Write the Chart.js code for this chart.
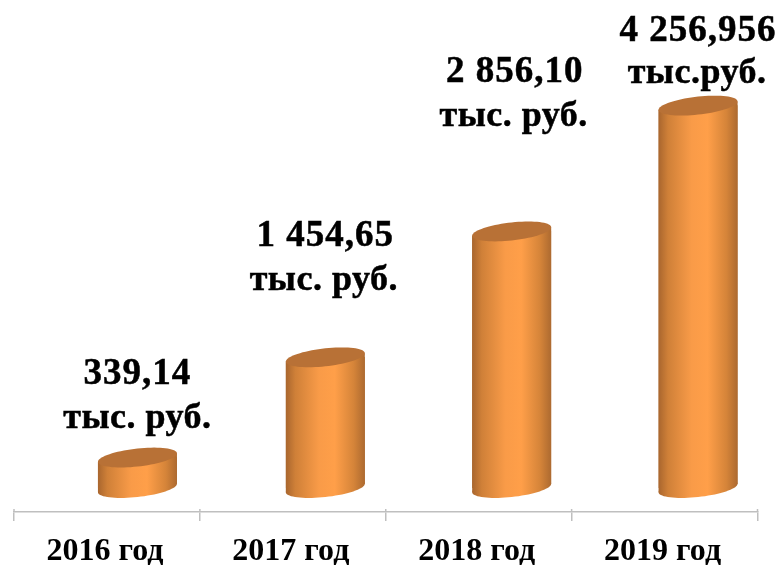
<!DOCTYPE html>
<html><head><meta charset="utf-8">
<script src="https://cdn.jsdelivr.net/npm/chart.js@4"></script>
<style>html,body{margin:0;padding:0;background:#fff}#w{width:781px;height:565px}canvas{filter:blur(.45px)}</style>
</head><body><div id="w"><canvas id="c"></canvas></div>
<script>
const categories = ["2016 год","2017 год","2018 год","2019 год"];
const values = [339.14,1454.65,2856.10,4256.956];
const valueLabels = ["339,14","1 454,65","2 856,10","4 256,956"];
const unitLabels = ["тыс. руб.","тыс. руб.","тыс. руб.","тыс.руб."];
const SERIF = '"Liberation Serif","Times New Roman",serif';
const barShift = [30.5,32.5,33,33.5];
const DY = -24, RY = 9, SKEW = 4.2, BAR = 79;
const labelLift = [83,121,159.5,74], labelShift=[0,0,3,0], unitShift=[0,-1.5,-1,-1], lineGap=[44.5,44.5,45,42.5];
function sideGrad(ctx,l,r){const g=ctx.createLinearGradient(l,0,r,0);
 g.addColorStop(0,'#a9662e');g.addColorStop(.12,'#cf8038');g.addColorStop(.42,'#f99b48');g.addColorStop(.62,'#ff9f49');g.addColorStop(.86,'#d58439');g.addColorStop(1,'#ad6a30');return g;}
function cap(c,x,y,w){c.beginPath();
 for(let k=0;k<=72;k++){const t=k/72*Math.PI*2,px=x+w*Math.cos(t),py=y+RY*Math.sin(t)-SKEW*Math.cos(t);k?c.lineTo(px,py):c.moveTo(px,py);}
 c.closePath();}
function body(c,b,w){c.moveTo(b.x-w,b.y+SKEW);c.lineTo(b.x+w,b.y-SKEW);c.lineTo(b.x+w,b.base-SKEW);c.lineTo(b.x-w,b.base+SKEW);c.closePath();}
const cylinders={id:'cylinders',
 afterLayout(ch){const s=ch.scales.x;
  ch.data.datasets[0].backgroundColor=categories.map((_,i)=>{const x=s.getPixelForValue(i)+barShift[i];return sideGrad(ch.ctx,x-BAR/2,x+BAR/2);});},
 afterDatasetsUpdate(ch){ch.getDatasetMeta(0).data.forEach((b,i)=>{b.x+=barShift[i];});},
 beforeDatasetsDraw(ch){const c=ch.ctx,m=ch.getDatasetMeta(0).data;c.save();c.translate(0,DY);
  m.forEach(b=>{const w=b.width/2;c.fillStyle=sideGrad(c,b.x-w,b.x+w);
   cap(c,b.x,b.base,w);c.fill();
   c.beginPath();body(c,b,w);c.fill();});
  c.beginPath();m.forEach(b=>body(c,b,b.width/2));
  c.save();c.clip();},
 afterDatasetsDraw(ch){const c=ch.ctx;c.restore();
  const meta=ch.getDatasetMeta(0).data;
  meta.forEach(b=>{c.fillStyle='#b87136';cap(c,b.x,b.y,b.width/2);c.fill();});
  c.restore();
  c.save();c.fillStyle='#000';c.strokeStyle='#000';c.lineWidth=.5;c.textAlign='center';c.textBaseline='middle';
  meta.forEach((b,i)=>{const x=b.x+labelShift[i],y=b.y+DY-labelLift[i],ux=x+unitShift[i];
   c.font='bold 37px '+SERIF;c.letterSpacing='1px';c.fillText(valueLabels[i],x,y);c.strokeText(valueLabels[i],x,y);
   c.font='bold 36px '+SERIF;c.letterSpacing='0.5px';c.fillText(unitLabels[i],ux,y+lineGap[i]);c.strokeText(unitLabels[i],ux,y+lineGap[i]);});
  c.restore();
  const s=ch.scales.x,n=categories.length,st=(s.right-s.left)/n;
  c.save();c.strokeStyle='#bfbfbf';c.lineWidth=1.5;
  for(let i=0;i<=n;i++){const x=s.left+i*st;c.beginPath();c.moveTo(x,s.top-3);c.lineTo(x,s.top);c.stroke();}
  c.restore();
 }};
new Chart(document.getElementById('c'),{type:'bar',
 data:{labels:categories,datasets:[{data:values,borderWidth:0,
  categoryPercentage:1,barThickness:BAR,backgroundColor:'#f99b48'}]},
 plugins:[cylinders],
 options:{responsive:true,maintainAspectRatio:false,animation:false,
  layout:{padding:{left:14,right:23.5,top:0,bottom:0}},
  plugins:{legend:{display:false},tooltip:{enabled:false}},
  scales:{
   y:{display:false,min:0,max:5700},
   x:{border:{color:'#bfbfbf',width:1.5},
      grid:{drawOnChartArea:false,color:'#bfbfbf',lineWidth:1.5,tickLength:9},
      afterFit(s){s.height=53;},
      ticks:{color:'#000',padding:12,labelOffset:-2,font:{family:SERIF,weight:'bold',size:32},maxRotation:0}}
  }}});
</script></body></html>
